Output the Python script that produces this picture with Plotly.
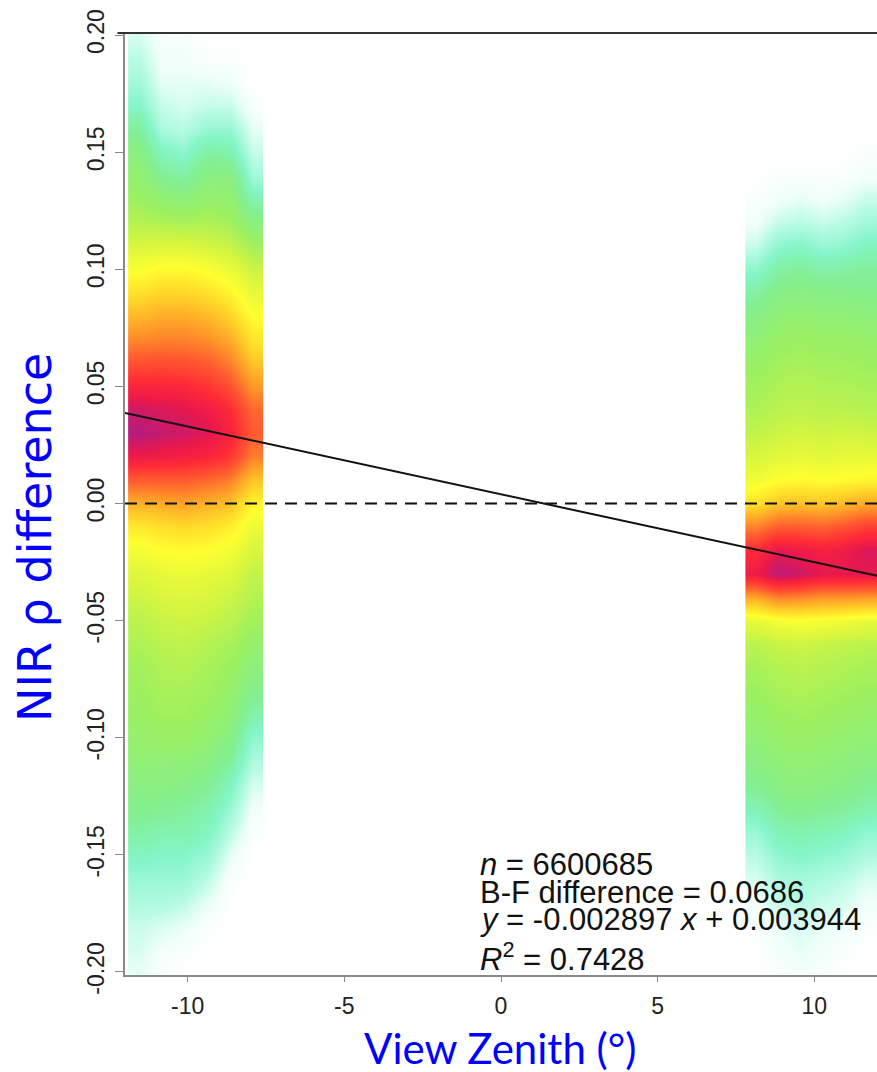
import plotly.graph_objects as go

# ---------------- data ----------------
y_rows = [-0.20, -0.19, -0.18, -0.17, -0.16, -0.15, -0.14, -0.13, -0.12, -0.11,
          -0.10, -0.09, -0.08, -0.07, -0.06, -0.05, -0.04, -0.03, -0.02, -0.01,
          0.00, 0.01, 0.02, 0.03, 0.04, 0.05, 0.06, 0.07, 0.08, 0.09,
          0.10, 0.11, 0.12, 0.13, 0.14, 0.15, 0.16, 0.17, 0.18, 0.19, 0.20]

left_x_edges = [-11.9, -11.2, -10.5, -9.8, -9.0, -8.3, -7.6]
right_x_edges = [7.8, 8.5, 9.2, 9.9, 10.6, 11.3, 12.0]

# relative point density (0-1), rows follow y_rows (bottom to top)
left_density = [
    [0.03, 0.01, 0.00, 0.00, 0.00, 0.00],
    [0.04, 0.02, 0.01, 0.00, 0.00, 0.00],
    [0.05, 0.04, 0.03, 0.01, 0.00, 0.00],
    [0.07, 0.07, 0.06, 0.03, 0.00, 0.00],
    [0.09, 0.09, 0.09, 0.06, 0.01, 0.00],
    [0.12, 0.11, 0.11, 0.09, 0.03, 0.00],
    [0.15, 0.14, 0.14, 0.12, 0.06, 0.01],
    [0.18, 0.17, 0.16, 0.14, 0.09, 0.02],
    [0.20, 0.20, 0.19, 0.17, 0.12, 0.04],
    [0.22, 0.22, 0.22, 0.20, 0.16, 0.07],
    [0.24, 0.25, 0.25, 0.23, 0.19, 0.10],
    [0.25, 0.27, 0.27, 0.25, 0.22, 0.14],
    [0.26, 0.28, 0.28, 0.27, 0.24, 0.18],
    [0.27, 0.29, 0.30, 0.28, 0.26, 0.21],
    [0.29, 0.31, 0.32, 0.30, 0.28, 0.24],
    [0.31, 0.33, 0.34, 0.33, 0.31, 0.27],
    [0.34, 0.36, 0.37, 0.36, 0.34, 0.30],
    [0.37, 0.39, 0.40, 0.39, 0.37, 0.32],
    [0.42, 0.44, 0.45, 0.44, 0.42, 0.36],
    [0.48, 0.50, 0.51, 0.50, 0.47, 0.40],
    [0.58, 0.59, 0.60, 0.58, 0.55, 0.46],
    [0.72, 0.72, 0.72, 0.70, 0.66, 0.55],
    [0.88, 0.87, 0.86, 0.84, 0.79, 0.66],
    [0.98, 0.95, 0.94, 0.91, 0.85, 0.72],
    [0.94, 0.92, 0.91, 0.88, 0.82, 0.70],
    [0.84, 0.84, 0.83, 0.80, 0.74, 0.62],
    [0.74, 0.75, 0.74, 0.72, 0.66, 0.55],
    [0.65, 0.66, 0.66, 0.64, 0.59, 0.49],
    [0.57, 0.59, 0.59, 0.57, 0.52, 0.44],
    [0.50, 0.52, 0.52, 0.50, 0.46, 0.39],
    [0.43, 0.45, 0.45, 0.43, 0.40, 0.34],
    [0.36, 0.37, 0.37, 0.35, 0.33, 0.27],
    [0.30, 0.29, 0.28, 0.29, 0.27, 0.20],
    [0.26, 0.23, 0.21, 0.24, 0.23, 0.13],
    [0.23, 0.17, 0.15, 0.20, 0.20, 0.08],
    [0.20, 0.12, 0.10, 0.15, 0.14, 0.05],
    [0.16, 0.07, 0.06, 0.09, 0.09, 0.03],
    [0.11, 0.05, 0.04, 0.05, 0.05, 0.01],
    [0.08, 0.03, 0.03, 0.03, 0.02, 0.00],
    [0.06, 0.02, 0.02, 0.01, 0.01, 0.00],
    [0.04, 0.01, 0.01, 0.00, 0.00, 0.00],
]

right_density = [
    [0.00, 0.01, 0.02, 0.01, 0.00, 0.00],
    [0.00, 0.02, 0.03, 0.02, 0.01, 0.00],
    [0.01, 0.03, 0.04, 0.03, 0.02, 0.01],
    [0.02, 0.05, 0.06, 0.05, 0.04, 0.02],
    [0.04, 0.07, 0.08, 0.07, 0.06, 0.04],
    [0.06, 0.10, 0.11, 0.10, 0.09, 0.07],
    [0.09, 0.13, 0.14, 0.13, 0.12, 0.10],
    [0.13, 0.17, 0.18, 0.17, 0.16, 0.14],
    [0.17, 0.20, 0.21, 0.20, 0.19, 0.17],
    [0.20, 0.22, 0.23, 0.22, 0.21, 0.20],
    [0.22, 0.24, 0.25, 0.24, 0.23, 0.22],
    [0.24, 0.26, 0.27, 0.26, 0.25, 0.24],
    [0.26, 0.28, 0.29, 0.28, 0.27, 0.26],
    [0.28, 0.30, 0.31, 0.30, 0.29, 0.28],
    [0.31, 0.33, 0.34, 0.33, 0.32, 0.31],
    [0.39, 0.42, 0.43, 0.42, 0.41, 0.39],
    [0.60, 0.66, 0.65, 0.63, 0.63, 0.62],
    [0.88, 0.97, 0.94, 0.90, 0.90, 0.90],
    [0.82, 0.90, 0.88, 0.86, 0.88, 0.92],
    [0.66, 0.72, 0.72, 0.71, 0.74, 0.78],
    [0.50, 0.55, 0.56, 0.55, 0.57, 0.60],
    [0.41, 0.44, 0.45, 0.44, 0.45, 0.46],
    [0.36, 0.38, 0.39, 0.38, 0.39, 0.39],
    [0.32, 0.34, 0.35, 0.34, 0.35, 0.34],
    [0.29, 0.31, 0.32, 0.31, 0.31, 0.30],
    [0.27, 0.29, 0.30, 0.29, 0.29, 0.28],
    [0.25, 0.27, 0.28, 0.27, 0.27, 0.26],
    [0.22, 0.25, 0.26, 0.25, 0.25, 0.24],
    [0.19, 0.22, 0.23, 0.22, 0.22, 0.21],
    [0.15, 0.19, 0.20, 0.19, 0.19, 0.18],
    [0.10, 0.15, 0.16, 0.14, 0.15, 0.16],
    [0.05, 0.10, 0.11, 0.09, 0.10, 0.12],
    [0.02, 0.05, 0.06, 0.05, 0.06, 0.08],
    [0.01, 0.02, 0.03, 0.02, 0.03, 0.05],
    [0.00, 0.01, 0.01, 0.01, 0.01, 0.02],
    [0.00, 0.00, 0.00, 0.00, 0.00, 0.01],
    [0.00, 0.00, 0.00, 0.00, 0.00, 0.00],
    [0.00, 0.00, 0.00, 0.00, 0.00, 0.00],
    [0.00, 0.00, 0.00, 0.00, 0.00, 0.00],
    [0.00, 0.00, 0.00, 0.00, 0.00, 0.00],
    [0.00, 0.00, 0.00, 0.00, 0.00, 0.00],
]

fit_slope = -0.002897
fit_intercept = 0.003944
fit_x_range = [-12, 12]

x_tick_vals = [-10, -5, 0, 5, 10]
x_tick_text = ["-10", "-5", "0", "5", "10"]
y_tick_vals = [-0.20, -0.15, -0.10, -0.05, 0.00, 0.05, 0.10, 0.15, 0.20]
y_tick_text = ["-0.20", "-0.15", "-0.10", "-0.05", "0.00", "0.05", "0.10", "0.15", "0.20"]

stats_lines = ["<i>n</i> = 6600685",
               "B-F difference = 0.0686",
               "<i>y</i> = -0.002897 <i>x</i> + 0.003944",
               "<i>R</i><sup>2</sup> = 0.7428"]

# ---------------- figure ----------------
density_colors = [
    [0.00, "#ffffff"],
    [0.025, "#eefff8"],
    [0.06, "#b8fbe4"],
    [0.11, "#84f5c8"],
    [0.17, "#82ef92"],
    [0.26, "#9cf060"],
    [0.35, "#d4f540"],
    [0.44, "#ffff30"],
    [0.53, "#ffd028"],
    [0.62, "#ff9a28"],
    [0.72, "#ff5a30"],
    [0.82, "#ff2a36"],
    [0.90, "#e8184e"],
    [1.00, "#a81c8c"],
]

fig = go.Figure()
for xe, dens in [(left_x_edges, left_density), (right_x_edges, right_density)]:
    fig.add_trace(go.Heatmap(
        x=xe, y=y_rows, z=dens, zmin=0, zmax=1, zsmooth="best",
        colorscale=density_colors, showscale=False, hoverinfo="skip"))

fig.add_trace(go.Scatter(
    x=fit_x_range, y=[0, 0], mode="lines",
    line=dict(color="#111111", width=2, dash="12px,8px"), hoverinfo="skip"))

fit_y = [fit_slope * xv + fit_intercept for xv in fit_x_range]
fig.add_trace(go.Scatter(
    x=fit_x_range, y=fit_y, mode="lines",
    line=dict(color="#111111", width=2), hoverinfo="skip"))

tick_font = dict(family="Liberation Sans, Arial", size=23, color="#222222")

fig.update_layout(
    width=877, height=1072,
    margin=dict(l=125, r=0, t=33, b=97),
    paper_bgcolor="white", plot_bgcolor="white",
    showlegend=False,
    xaxis=dict(range=[-12, 12], tickvals=x_tick_vals, ticktext=x_tick_text,
               showgrid=False, zeroline=False, showline=True, linecolor="#8a8a8a",
               linewidth=2, ticks="outside", ticklen=5, tickcolor="#8a8a8a",
               tickfont=tick_font, ticklabelstandoff=4),
    yaxis=dict(range=[-0.2013, 0.2009], tickvals=y_tick_vals, ticktext=y_tick_text,
               showgrid=False, zeroline=False, showline=True, linecolor="#8a8a8a",
               linewidth=2, ticks="outside", ticklen=8, tickcolor="#8a8a8a",
               tickfont=tick_font, tickangle=-90, ticklabelstandoff=2),
    shapes=[dict(type="line", xref="paper", yref="paper", x0=-0.01, x1=1, y0=1, y1=1,
                 line=dict(color="#333333", width=2))],
)

stats_y = [0.1178, 0.0881, 0.0594, 0.0191]
for txt, yy in zip(stats_lines, stats_y):
    fig.add_annotation(text=txt, xref="paper", yref="paper", x=0.470, y=yy,
                       xanchor="left", yanchor="middle", showarrow=False,
                       font=dict(family="Liberation Sans, Arial", size=31, color="#111111"))

fig.add_annotation(text="NIR ρ difference", xref="paper", yref="paper",
                   x=-0.1197, y=0.465, textangle=-90, showarrow=False,
                   xanchor="center", yanchor="middle",
                   font=dict(family="DejaVu Sans", size=46, color="#0000ff"))
fig.add_annotation(text="View Zenith (°)", xref="paper", yref="paper",
                   x=0.4987, y=-0.0775, showarrow=False,
                   xanchor="center", yanchor="middle",
                   font=dict(family="Lato, Open Sans", size=42, color="#0000ff"))

fig.write_html("out.html", config={"displayModeBar": False},
               post_script="document.body.style.margin='0';document.body.style.padding='0';")
